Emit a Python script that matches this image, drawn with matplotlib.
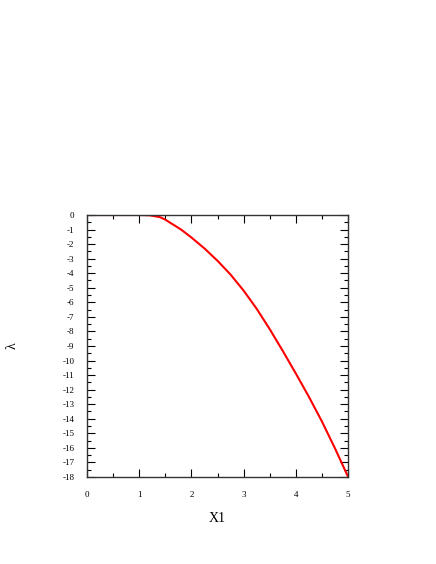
import numpy as np
import matplotlib
matplotlib.use("Agg")
import matplotlib.pyplot as plt
from matplotlib.ticker import MultipleLocator

# values
x1 = [0.0, 0.5, 1.0, 1.2, 1.4, 1.5, 1.6, 1.7, 1.8, 1.9, 2.0, 2.25, 2.5, 2.75,
      3.0, 3.25, 3.5, 3.75, 4.0, 4.25, 4.5, 4.75, 5.0]
lam = [0.0, 0.0, 0.0, -0.02, -0.15, -0.32, -0.55, -0.77, -1.0, -1.27, -1.55,
       -2.3, -3.15, -4.1, -5.2, -6.45, -7.85, -9.35, -10.9, -12.5, -14.2,
       -16.05, -18.0]
xticks = [0, 1, 2, 3, 4, 5]
yticks = list(range(0, -19, -1))

plt.rcParams['font.family'] = ['Liberation Serif', 'DejaVu Serif']

fig = plt.figure(figsize=(4.36, 5.64), dpi=100)
ax = fig.add_axes([0.1995, 0.1543, 0.599, 0.4645])

ax.plot(x1, lam, color='red', linewidth=1.5)

ax.set_xlim(0, 5)
ax.set_ylim(-18, 0)
ax.set_xticks(xticks)
ax.set_yticks(yticks)
ax.set_xticklabels([str(t) for t in xticks])
ax.set_yticklabels([str(t) for t in yticks])
ax.xaxis.set_minor_locator(MultipleLocator(0.5))
ax.yaxis.set_minor_locator(MultipleLocator(0.5))

ax.tick_params(which='both', direction='in', top=True, right=True,
               labelsize=6.5, width=0.8)
ax.tick_params(which='major', length=6)
ax.tick_params(which='minor', length=3)
ax.tick_params(axis='x', pad=10)
ax.tick_params(axis='y', pad=9)

for s in ax.spines.values():
    s.set_linewidth(1.0)
    s.set_color('#333333')

ax.set_xlabel('X1', fontsize=10)
ax.xaxis.set_label_coords(0.5, -0.132)
ax.set_ylabel('λ', fontsize=10)
ax.yaxis.set_label_coords(-0.262, 0.5)

fig.savefig('out.png', dpi=100)
